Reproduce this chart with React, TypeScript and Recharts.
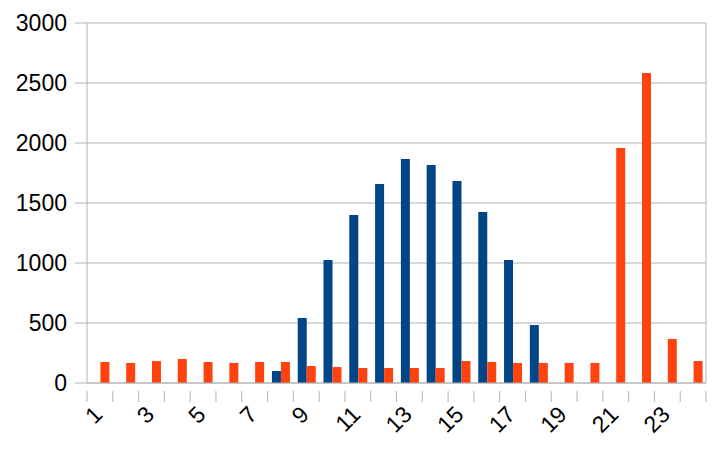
import React from 'react';
import { BarChart, Bar, XAxis, YAxis, CartesianGrid } from 'recharts';

const categories = ['1', '2', '3', '4', '5', '6', '7', '8', '9', '10', '11', '12', '13', '14', '15', '16', '17', '18', '19', '20', '21', '22', '23', '24'];
const blueValues = [0, 0, 0, 0, 0, 0, 0, 100, 542, 1025, 1400, 1658, 1867, 1817, 1683, 1425, 1025, 483, 0, 0, 0, 0, 0, 0];
const orangeValues = [175, 167, 183, 200, 175, 167, 175, 175, 142, 133, 125, 125, 125, 125, 183, 175, 167, 167, 167, 167, 1958, 2583, 367, 183];
const yTicks = [0, 500, 1000, 1500, 2000, 2500, 3000];

const data = categories.map((name, i) => ({ name, blue: blueValues[i], orange: orangeValues[i] }));

const W = 720;
const H = 449;
const MARGIN = { top: 23, right: 13, left: 0, bottom: 0 };
const Y_AXIS_W = 87;
const RIGHT_AXIS_W = 1;
const BAND = (W - MARGIN.left - MARGIN.right - Y_AXIS_W - RIGHT_AXIS_W) / categories.length;
const FONT = '"Liberation Sans", Arial, sans-serif';
const GRID = '#b3b3b3';
const FS = 23;

const XTick = (props: any) => {
  const { x, y, payload, index } = props;
  const half = BAND / 2;
  const isLast = index === categories.length - 1;
  const ax = x + 4;
  const ay = y + 25;
  return (
    <g>
      <line x1={x - half} x2={x - half} y1={y} y2={y + 11} stroke={GRID} />
      {isLast && <line x1={x + half} x2={x + half} y1={y} y2={y + 11} stroke={GRID} />}
      {index % 2 === 0 && (
        <text
          x={ax}
          y={ay}
          transform={`rotate(-45, ${ax}, ${ay})`}
          textAnchor="end"
          fontSize={FS}
          fontFamily={FONT}
          fill="#000"
        >
          {payload.value}
        </text>
      )}
    </g>
  );
};

export default function App() {
  return (
    <div style={{ position: 'absolute', left: 0, top: 0, width: W, height: H, background: '#fff' }}>
      <BarChart width={W} height={H} data={data} margin={MARGIN} barCategoryGap="17%" barGap={0}>
        <CartesianGrid vertical={false} stroke={GRID} />
        <XAxis
          dataKey="name"
          height={66}
          interval={0}
          tickLine={false}
          axisLine={{ stroke: GRID }}
          tick={<XTick />}
        />
        <YAxis
          width={Y_AXIS_W}
          domain={[0, 3000]}
          ticks={yTicks}
          tickSize={12}
          tickMargin={8}
          axisLine={{ stroke: GRID }}
          tickLine={{ stroke: GRID }}
          tick={{ fontSize: FS, fontFamily: FONT, fill: '#000' }}
        />
        <YAxis
          yAxisId="right"
          orientation="right"
          width={RIGHT_AXIS_W}
          tick={false}
          tickLine={false}
          axisLine={{ stroke: GRID }}
        />
        <Bar dataKey="blue" fill="#004586" isAnimationActive={false} />
        <Bar dataKey="orange" fill="#ff420e" isAnimationActive={false} />
      </BarChart>
    </div>
  );
}
